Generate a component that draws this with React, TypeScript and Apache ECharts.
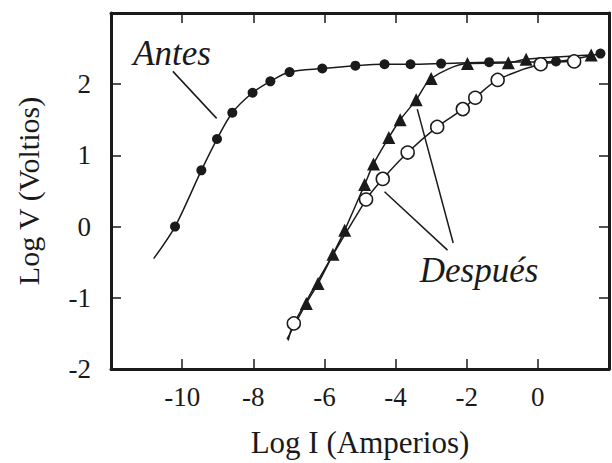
import React, { useEffect, useRef } from "react";
import * as echarts from "echarts";

// ---- data ----
const antesX = [-10.2, -9.46, -9.02, -8.59, -8.02, -7.52, -6.98, -6.06, -5.13, -4.31, -3.58, -2.72, -1.37, 0.51, 1.76];
const antesY = [0.0, 0.79, 1.23, 1.6, 1.88, 2.04, 2.17, 2.22, 2.26, 2.28, 2.28, 2.29, 2.31, 2.32, 2.43];
const antesStart = [-10.8, -0.45];

const triX = [-6.51, -6.18, -5.76, -5.43, -4.87, -4.62, -4.19, -3.87, -3.42, -3.0, -1.98, -0.83, -0.33, 1.5];
const triY = [-1.08, -0.8, -0.39, -0.05, 0.59, 0.88, 1.25, 1.5, 1.78, 2.08, 2.29, 2.3, 2.35, 2.41];
const triStart = [-7.05, -1.58];

const openX = [-6.86, -4.83, -4.36, -3.66, -2.83, -2.11, -1.76, -1.13, 0.08, 1.02];
const openY = [-1.36, 0.38, 0.67, 1.04, 1.4, 1.65, 1.81, 2.06, 2.28, 2.32];
const openStart = [-7.02, -1.6];

const xTicks = [-10, -8, -6, -4, -2, 0];
const yTicks = [-2, -1, 0, 1, 2];

// leader lines (data coordinates)
const antesLeader = [[-10.26, 2.18], [-9.03, 1.52]];
const despuesLeaderA = [[-4.31, 0.49], [-2.54, -0.33]];
const despuesLeaderB = [[-3.39, 1.65], [-2.38, -0.23]];

const FONT = "Liberation Serif";
const INK = "#1a1a1a";

function build(xs: number[], ys: number[], start: number[]) {
  const d: any[] = [{ value: start, symbol: "none" }];
  xs.forEach((x, i) => d.push([x, ys[i]]));
  return d;
}

function leader(pts: number[][]) {
  return [{ coord: pts[0] }, { coord: pts[1] }];
}

export default function App() {
  const ref = useRef<HTMLDivElement>(null);
  useEffect(() => {
    if (!ref.current) return;
    const chart = echarts.init(ref.current, null, { renderer: "svg" });
    const axisLine = { show: true, onZero: false, lineStyle: { color: INK, width: 3 } };
    const tick = { show: true, inside: true, length: 10, lineStyle: { color: INK, width: 1.5 } };
    chart.setOption({
      animation: false,
      backgroundColor: "#fff",
      grid: { left: 111, right: 2, top: 13, bottom: 91 },
      xAxis: [
        {
          type: "value",
          min: -12,
          max: 2,
          interval: 2,
          position: "bottom",
          axisLine,
          axisTick: tick,
          splitLine: { show: false },
          axisLabel: {
            margin: 14,
            fontFamily: FONT,
            fontSize: 27,
            color: INK,
            formatter: (v: number) => (xTicks.includes(v) ? String(v) : ""),
          },
          name: "Log I (Amperios)",
          nameLocation: "middle",
          nameGap: 58,
          nameTextStyle: { fontFamily: FONT, fontSize: 31, color: INK },
        },
        {
          type: "value",
          min: -12,
          max: 2,
          interval: 2,
          position: "top",
          axisLine,
          axisTick: tick,
          axisLabel: { show: false },
          splitLine: { show: false },
        },
      ],
      yAxis: [
        {
          type: "value",
          min: -2,
          max: 3,
          interval: 1,
          position: "left",
          axisLine,
          axisTick: tick,
          splitLine: { show: false },
          axisLabel: {
            margin: 20,
            fontFamily: FONT,
            fontSize: 27,
            color: INK,
            formatter: (v: number) => (yTicks.includes(v) ? String(v) : ""),
          },
          name: "Log V (Voltios)",
          nameLocation: "middle",
          nameGap: 68,
          nameTextStyle: { fontFamily: FONT, fontSize: 30, color: INK },
        },
        {
          type: "value",
          min: -2,
          max: 3,
          interval: 1,
          position: "right",
          axisLine,
          axisTick: tick,
          axisLabel: { show: false },
          splitLine: { show: false },
        },
      ],
      series: [
        {
          name: "Antes",
          type: "line",
          smooth: 0.3,
          data: build(antesX, antesY, antesStart),
          symbol: "circle",
          symbolSize: 10,
          showAllSymbol: true,
          lineStyle: { color: INK, width: 1.5 },
          itemStyle: { color: INK, borderColor: INK, borderWidth: 0 },
          markLine: {
            silent: true,
            symbol: "none",
            label: { show: false },
            lineStyle: { color: INK, width: 1.5, type: "solid" },
            data: [leader(antesLeader), leader(despuesLeaderA), leader(despuesLeaderB)],
          },
          z: 3,
        },
        {
          name: "Después (triángulos)",
          type: "line",
          smooth: 0.3,
          data: build(triX, triY, triStart),
          symbol: "triangle",
          symbolSize: 13,
          showAllSymbol: true,
          lineStyle: { color: INK, width: 1.5 },
          itemStyle: { color: INK, borderWidth: 0 },
          z: 4,
        },
        {
          name: "Después (círculos)",
          type: "line",
          smooth: 0.3,
          data: build(openX, openY, openStart),
          symbol: "circle",
          symbolSize: 13,
          showAllSymbol: true,
          lineStyle: { color: INK, width: 1.5 },
          itemStyle: { color: "#fff", borderColor: INK, borderWidth: 1.5 },
          z: 5,
        },
      ],
      graphic: [
        {
          type: "text",
          x: 172,
          y: 53,
          style: {
            text: "Antes",
            font: `italic 35px "${FONT}"`,
            fill: INK,
            align: "center",
            verticalAlign: "middle",
          },
        },
        {
          type: "text",
          x: 479,
          y: 270,
          style: {
            text: "Después",
            font: `italic 35px "${FONT}"`,
            fill: INK,
            align: "center",
            verticalAlign: "middle",
          },
        },
      ],
    });
    return () => chart.dispose();
  }, []);
  return <div ref={ref} style={{ width: 612, height: 463, position: "absolute", left: 0, top: 0 }} />;
}
